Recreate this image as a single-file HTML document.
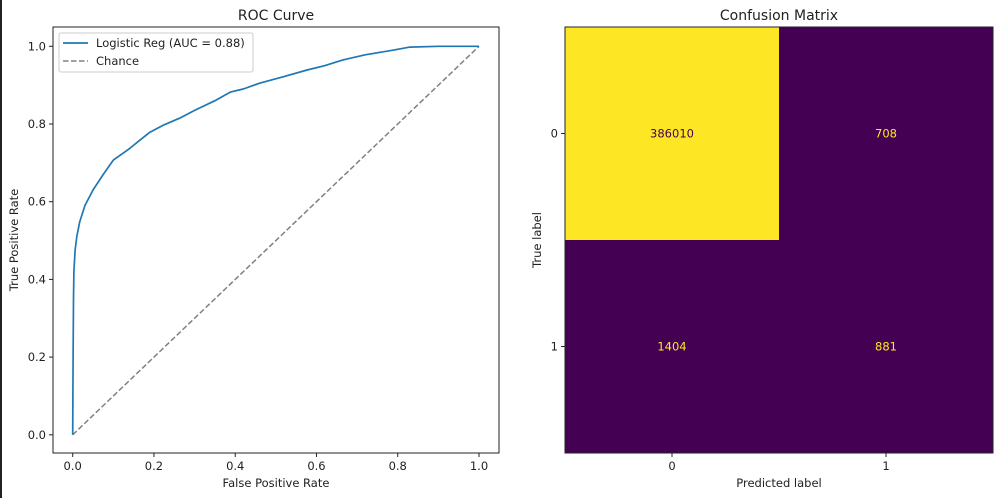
<!DOCTYPE html>
<html><head><meta charset="utf-8"><style>
body{margin:0;background:#fff;}
svg{display:block;font-family:"DejaVu Sans","Liberation Sans",sans-serif;}
</style></head><body>
<svg id="chart" width="1005" height="498">
<rect x="0" y="0" width="1005" height="498" fill="#fff"/>
<rect x="0" y="0" width="2" height="498" fill="#222"/>
</svg>
<script>
const fpr=[0,0.001,0.002,0.003,0.006,0.01,0.017,0.03,0.05,0.075,0.1,0.12,0.14,0.165,0.19,0.225,0.263,0.3,0.35,0.388,0.42,0.46,0.52,0.577,0.62,0.665,0.72,0.788,0.83,0.9,1.0];
const tpr=[0,0.2,0.35,0.42,0.475,0.51,0.547,0.59,0.63,0.67,0.707,0.722,0.737,0.758,0.779,0.798,0.815,0.835,0.86,0.882,0.89,0.905,0.922,0.939,0.95,0.965,0.978,0.99,0.998,1.0,1.0];
const rocTicks=[0,0.2,0.4,0.6,0.8,1.0];
const cmValues=[[386010,708],[1404,881]];
const cmLabels=["0","1"];
const NS="http://www.w3.org/2000/svg";
const svg=document.getElementById('chart');
function el(t,a,txt){const e=document.createElementNS(NS,t);for(const k in a)e.setAttribute(k,a[k]);if(txt!==undefined)e.textContent=txt;svg.appendChild(e);return e;}
const L=53,R=499,T=27,B=453;
const sx=v=>72.7+v*(479-72.7);
const sy=v=>434.8-v*388.5;
let e=el('text',{x:276,y:20,'text-anchor':'middle','font-size':14,fill:'#222'},'ROC Curve');


e=el('line',{x1:sx(0),y1:sy(0),x2:sx(1),y2:sy(1),stroke:'#808080','stroke-width':1.5,'stroke-dasharray':'5.5,2.5'});


let d=fpr.map((v,i)=>(i?'L':'M')+sx(v).toFixed(1)+','+sy(tpr[i]).toFixed(1)).join(' ');
e=el('path',{d:d,fill:'none',stroke:'#1f77b4','stroke-width':1.7,'stroke-linejoin':'round'});


e=el('rect',{x:L,y:T,width:R-L,height:B-T,fill:'none',stroke:'#222','stroke-width':1});


rocTicks.forEach(t=>{
 e=el('line',{x1:sx(t),y1:B,x2:sx(t),y2:B+4,stroke:'#222'});
 
 
 e=el('text',{x:sx(t),y:B+17,'text-anchor':'middle','font-size':11.5,fill:'#222'},t.toFixed(1));
 
 
 e=el('line',{x1:L-4,y1:sy(t),x2:L,y2:sy(t),stroke:'#222'});
 
 
 e=el('text',{x:L-7,y:sy(t)+4,'text-anchor':'end','font-size':11.5,fill:'#222'},t.toFixed(1));
 
 
});
e=el('text',{x:276,y:487,'text-anchor':'middle','font-size':11.5,fill:'#222'},'False Positive Rate');


e=el('text',{x:0,y:0,'text-anchor':'middle','font-size':11.5,fill:'#222',transform:'translate(18,240) rotate(-90)'},'True Positive Rate');


e=el('rect',{x:59,y:33,width:194,height:39,rx:2,fill:'#fff','fill-opacity':0.8,stroke:'#ccc'});


e=el('line',{x1:63,y1:43,x2:88,y2:43,stroke:'#1f77b4','stroke-width':1.7});


e=el('text',{x:96,y:47,'font-size':11.5,fill:'#222'},'Logistic Reg (AUC = 0.88)');


e=el('line',{x1:63,y1:61,x2:88,y2:61,stroke:'#808080','stroke-width':1.5,'stroke-dasharray':'5.5,2.5'});


e=el('text',{x:96,y:65,'font-size':11.5,fill:'#222'},'Chance');


const CL=565,CR=993,CT=27,CB=453;
const cw=(CR-CL)/2,ch=(CB-CT)/2;
const maxV=Math.max(...cmValues.flat()),minV=Math.min(...cmValues.flat());
e=el('text',{x:(CL+CR)/2,y:20,'text-anchor':'middle','font-size':14,fill:'#222'},'Confusion Matrix');


cmValues.forEach((row,i)=>row.forEach((v,j)=>{
 const hi=(v-minV)/(maxV-minV)>0.5;
 e=el('rect',{x:CL+j*cw,y:CT+i*ch,width:cw,height:ch,fill:hi?'#fde725':'#440154'});
 
 
 e=el('text',{x:CL+j*cw+cw/2,y:CT+i*ch+ch/2+4,'text-anchor':'middle','font-size':11.5,fill:hi?'#440154':'#fde725'},String(v));
 
 
}));
e=el('rect',{x:CL,y:CT,width:CR-CL,height:CB-CT,fill:'none',stroke:'#222'});


cmLabels.forEach((lab,i)=>{
 const xc=CL+i*cw+cw/2,yc=CT+i*ch+ch/2;
 e=el('line',{x1:xc,y1:CB,x2:xc,y2:CB+4,stroke:'#222'});
 
 
 e=el('text',{x:xc,y:CB+17,'text-anchor':'middle','font-size':11.5,fill:'#222'},lab);
 
 
 e=el('line',{x1:CL-4,y1:yc,x2:CL,y2:yc,stroke:'#222'});
 
 
 e=el('text',{x:CL-7,y:yc+4,'text-anchor':'end','font-size':11.5,fill:'#222'},lab);
 
 
});
e=el('text',{x:(CL+CR)/2,y:487,'text-anchor':'middle','font-size':11.5,fill:'#222'},'Predicted label');


e=el('text',{x:0,y:0,'text-anchor':'middle','font-size':11.5,fill:'#222',transform:'translate(541,240) rotate(-90)'},'True label');


</script>
</body></html>
